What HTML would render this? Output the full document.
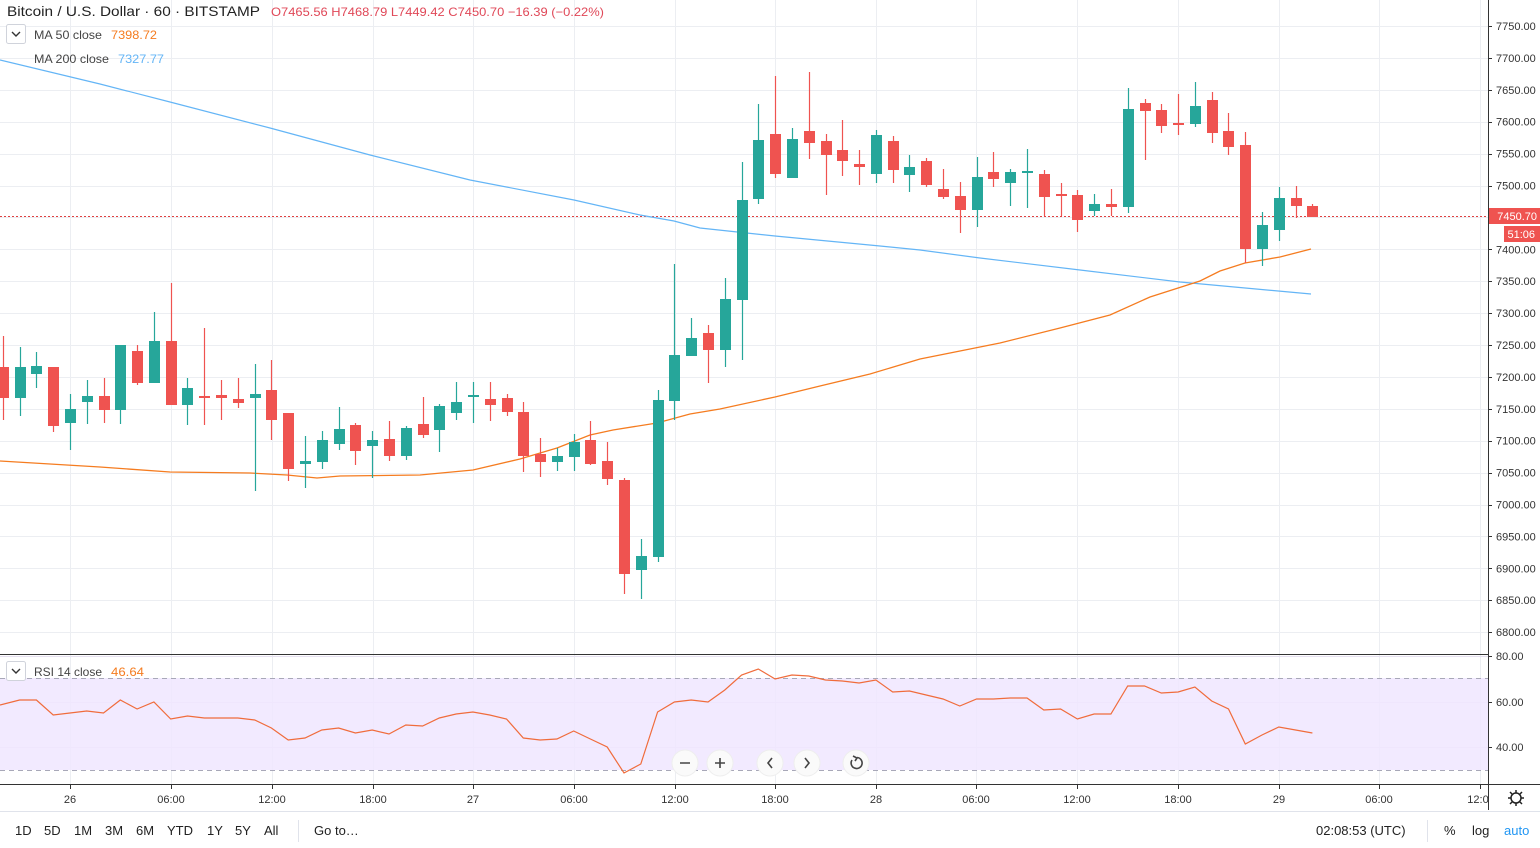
<!DOCTYPE html>
<html><head><meta charset="utf-8"><style>
html,body{margin:0;padding:0;background:#fff;width:1540px;height:848px;overflow:hidden;font-family:"Liberation Sans",sans-serif}
svg{position:absolute;left:0;top:0}
</style></head><body>
<svg id="s" width="1540" height="848" xmlns="http://www.w3.org/2000/svg" font-family="Liberation Sans, sans-serif">
<rect x="0" y="0" width="1540" height="848" fill="#fff"/>
<g id="grid"></g>
<rect x="0" y="678" width="1488" height="92" fill="#f0e6ff" opacity="0.85"/>
<line x1="0" y1="678.5" x2="1488" y2="678.5" stroke="#a8a8b8" stroke-dasharray="5,4"/>
<line x1="0" y1="770.5" x2="1488" y2="770.5" stroke="#a8a8b8" stroke-dasharray="5,4"/>
<line x1="0" y1="216.5" x2="1488" y2="216.5" stroke="#e04040" stroke-dasharray="2,2"/>
<polyline fill="none" stroke="#64b5f6" stroke-width="1.2" points="0,60 100,84 170,102 270,128 370,155 470,180 574,200 640,215 674,221 700,228 775,236 880,246 920,250 980,258 1080,270 1180,282 1311,294"/>
<polyline fill="none" stroke="#f57c20" stroke-width="1.3" points="0,461 100,467 170,472 250,473 287,475 317,478 340,476 420,475 473,470 520,459 557,448 590,435 613,430 657,423 690,414 720,409 775,397 820,386 870,374 920,359 1000,343 1060,328 1110,315 1150,297 1200,281 1220,271 1245,263 1280,257 1311,249"/>
<g id="candles"></g>
<polyline id="rsi" fill="none" stroke="#f06c3c" stroke-width="1.2"/>
<line x1="0" y1="654.5" x2="1488" y2="654.5" stroke="#333" stroke-width="1"/>
<line x1="0" y1="784.5" x2="1540" y2="784.5" stroke="#333" stroke-width="1"/>
<line x1="1488.5" y1="0" x2="1488.5" y2="810" stroke="#333" stroke-width="1"/>
<line x1="0" y1="811.5" x2="1540" y2="811.5" stroke="#e0e3eb"/>
<g id="axis" font-size="11" fill="#333"></g>
<rect x="1489" y="208" width="51" height="16" fill="#ef5350"/>
<text x="1537" y="220" font-size="11" fill="#fff" text-anchor="end">7450.70</text>
<rect x="1504" y="226" width="36" height="16" fill="#ef5350"/>
<text x="1535" y="238" font-size="11" fill="#fff" text-anchor="end">51:06</text>
<g id="taxis" font-size="11" fill="#333" text-anchor="middle"></g>
<!-- header -->
<text x="7" y="16" font-size="14" fill="#222" textLength="253" lengthAdjust="spacingAndGlyphs">Bitcoin / U.S. Dollar · 60 · BITSTAMP</text>
<text x="271" y="16" font-size="12" fill="#e04858" textLength="333" lengthAdjust="spacingAndGlyphs">O7465.56 H7468.79 L7449.42 C7450.70 −16.39 (−0.22%)</text>
<rect x="6.5" y="24.5" width="19" height="19" rx="2" fill="#fff" stroke="#d0d3db"/>
<path d="M12 32 l4 4 l4 -4" fill="none" stroke="#333" stroke-width="1.4"/>
<text x="34" y="39" font-size="12" fill="#444" textLength="68" lengthAdjust="spacingAndGlyphs">MA 50 close</text>
<text x="111" y="39" font-size="12" fill="#f57c20" textLength="46" lengthAdjust="spacingAndGlyphs">7398.72</text>
<text x="34" y="63" font-size="12" fill="#444" textLength="75" lengthAdjust="spacingAndGlyphs">MA 200 close</text>
<text x="118" y="63" font-size="12" fill="#64b5f6" textLength="46" lengthAdjust="spacingAndGlyphs">7327.77</text>
<rect x="6.5" y="661.5" width="19" height="19" rx="2" fill="#fff" stroke="#d0d3db"/>
<path d="M12 669 l4 4 l4 -4" fill="none" stroke="#333" stroke-width="1.4"/>
<text x="34" y="676" font-size="12" fill="#444" textLength="68" lengthAdjust="spacingAndGlyphs">RSI 14 close</text>
<text x="111" y="676" font-size="12" fill="#f57c20" textLength="33" lengthAdjust="spacingAndGlyphs">46.64</text>
<!-- nav buttons -->
<g fill="#fafafa" stroke="#eee">
<circle cx="685" cy="763" r="13"/><circle cx="720" cy="763" r="13"/><circle cx="770" cy="763" r="13"/><circle cx="807" cy="763" r="13"/><circle cx="856" cy="763" r="13"/></g>
<g stroke="#444" stroke-width="1.6" fill="none">
<path d="M680 763h10M715 763h10M720 758v10M772 758l-4 5 4 5M805 758l4 5-4 5"/>
<path d="M852 760 a5.5 5.5 0 1 0 5 -2.5"/><path d="M853 756l4 2-2 3"/></g>
<!-- gear -->
<circle cx="1516" cy="798" r="5" fill="none" stroke="#222" stroke-width="1.5"/>
<g stroke="#222" stroke-width="1.5"><path d="M1516 790v3M1516 803v3M1508 798h3M1521 798h3M1510 792l2 2M1520 802l2 2M1522 792l-2 2M1512 802l-2 2"/></g>
<!-- bottom toolbar -->
<g font-size="13" fill="#222">
<text x="15" y="835">1D</text><text x="44" y="835">5D</text><text x="74" y="835">1M</text><text x="105" y="835">3M</text><text x="136" y="835">6M</text><text x="167" y="835">YTD</text><text x="207" y="835">1Y</text><text x="235" y="835">5Y</text><text x="264" y="835">All</text>
<text x="314" y="835">Go to…</text>
<text x="1316" y="835">02:08:53 (UTC)</text>
<text x="1444" y="835">%</text><text x="1472" y="835">log</text>
<text x="1504" y="835" fill="#2196f3">auto</text></g>
<line x1="298.5" y1="820" x2="298.5" y2="842" stroke="#e0e3eb"/>
<line x1="1427.5" y1="820" x2="1427.5" y2="842" stroke="#e0e3eb"/>
</svg>
<script>
var NS="http://www.w3.org/2000/svg";
function el(t,a,p){var e=document.createElementNS(NS,t);for(var k in a)e.setAttribute(k,a[k]);p.appendChild(e);return e;}
var g=document.getElementById('grid');
var vx=[70,171,272,373,473,574,675,775,876,976,1077,1178,1279,1379,1480];
vx.forEach(function(x){el('line',{x1:x+.5,y1:0,x2:x+.5,y2:784,stroke:'#eceef2'},g);});
var ax=document.getElementById('axis');
for(var k=0;k<=19;k++){var y=26+k*31.9;var p=7750-k*50;
 el('line',{x1:0,y1:Math.round(y)+.5,x2:1488,y2:Math.round(y)+.5,stroke:'#eceef2'},g);
 el('line',{x1:1488,y1:Math.round(y)+.5,x2:1492,y2:Math.round(y)+.5,stroke:'#333'},ax);
 var t=el('text',{x:1496,y:y+4},ax);t.textContent=p.toFixed(2);}
[[656,'80.00'],[702,'60.00'],[747,'40.00']].forEach(function(a){
 el('line',{x1:0,y1:a[0]+.5,x2:1488,y2:a[0]+.5,stroke:'#e6e0f0'},g);
 el('line',{x1:1488,y1:a[0]+.5,x2:1492,y2:a[0]+.5,stroke:'#333'},ax);
 var t=el('text',{x:1496,y:a[0]+4},ax);t.textContent=a[1];});
var ta=document.getElementById('taxis');
var tl=['26','06:00','12:00','18:00','27','06:00','12:00','18:00','28','06:00','12:00','18:00','29','06:00','12:0'];
vx.forEach(function(x,i){el('line',{x1:x+.5,y1:785,x2:x+.5,y2:789,stroke:'#333'},ta);var t=el('text',{x:i==14?x-2:x,y:803},ta);t.textContent=tl[i];});
var C=[[367,398,336,420,'r'],[367,398,347,416,'g'],[366,374,352,388,'g'],[367,426,367,432,'r'],[409,423,394,450,'g'],[396,402,380,424,'g'],[396,410,378,423,'r'],[345,410,345,424,'g'],[351,383,345,385,'r'],[341,383,312,383,'g'],
[341,405,283,405,'r'],[388,405,378,425,'g'],[396,398,328,425,'r'],[395,398,380,420,'r'],[399,403,378,408,'r'],[394,398,364,491,'g'],[390,420,360,440,'r'],[413,469,413,481,'r'],[461,464,436,488,'g'],[440,462,431,469,'g'],
[429,444,407,450,'g'],[425,451,423,465,'r'],[440,446,431,478,'g'],[439,456,421,461,'r'],[428,456,426,460,'g'],[424,435,397,438,'r'],[406,430,404,452,'g'],[402,413,382,420,'g'],[395,397,382,423,'g'],[399,405,382,421,'r'],
[398,412,394,416,'r'],[412,456,402,472,'r'],[454,462,438,477,'r'],[456,462,448,471,'g'],[442,457,434,471,'g'],[440,464,421,465,'r'],[461,479,442,485,'r'],[480,574,478,594,'r'],[556,570,539,599,'g'],[400,557,390,562,'g'],
[355,401,264,420,'g'],[338,356,318,356,'g'],[333,350,325,383,'r'],[299,350,278,367,'g'],[200,300,162,360,'g'],[140,199,104,204,'g'],[134,174,76,178,'r'],[139,178,128,178,'g'],[131,143,72,159,'r'],[141,155,134,195,'r'],
[150,161,120,176,'r'],[164,167,150,185,'r'],[135,174,130,183,'g'],[141,170,136,183,'r'],[167,175,155,192,'g'],[161,185,158,187,'r'],[189,197,169,199,'r'],[196,210,182,233,'r'],[177,210,157,227,'g'],[172,179,152,187,'r'],
[172,183,169,206,'g'],[171,173,149,208,'g'],[174,197,170,216,'r'],[194,196,183,216,'r'],[195,220,190,232,'r'],[204,211,194,216,'g'],[204,207,189,216,'r'],[109,207,88,213,'g'],[103,111,99,160,'r'],[110,126,104,133,'r'],
[123,125,94,135,'r'],[106,124,82,127,'g'],[100,133,92,143,'r'],[131,147,113,155,'r'],[145,249,132,263,'r'],[225,249,212,266,'g'],[198,230,187,241,'g'],[198,206,186,218,'r'],[206,217,204,217,'r']];
var cg=document.getElementById('candles');
C.forEach(function(c,i){var x=Math.round(2.8+i*16.79);var col=c[4]=='g'?'#26a69a':'#ef5350';
 el('line',{x1:x+.5,y1:c[2],x2:x+.5,y2:c[3],stroke:col,'stroke-width':1.2},cg);
 el('rect',{x:x-5,y:c[0],width:11,height:Math.max(2,c[1]-c[0]),fill:col},cg);});
var R=[705,700,700,715,713,711,713,700,709,702,719,716,718,718,718,720,728,740,738,730,728,733,730,734,725,726,718,714,712,715,719,738,740,739,731,739,747,773,764,712,702,700,702,690,675,669,679,675,676,680,681,683,680,692,691,695,699,706,699,699,698,698,710,709,719,714,714,686,686,693,692,687,701,709,744,735,727,730,733];
document.getElementById('rsi').setAttribute('points',R.map(function(y,i){return (i==0?0:(2.8+i*16.79).toFixed(1))+','+y;}).join(' '));
</script>
</body></html>
